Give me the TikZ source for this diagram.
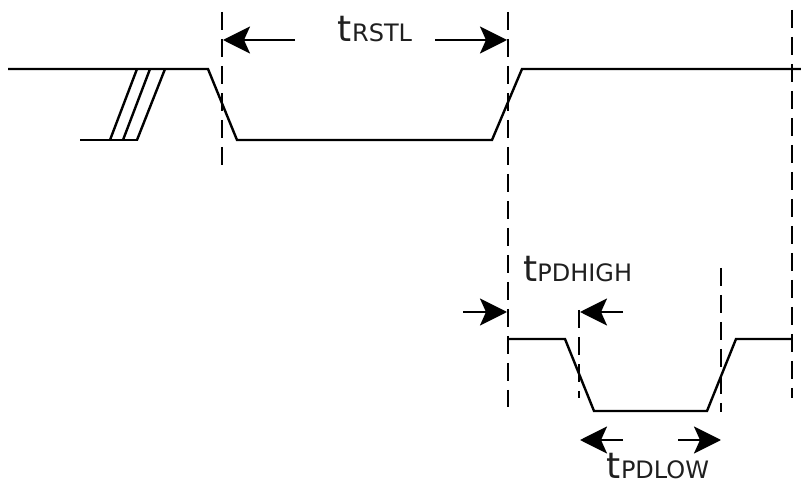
\documentclass[tikz,border=0pt]{standalone}
\usepackage{fontspec}
\setmainfont{DejaVu Sans}
\usetikzlibrary{arrows.meta}
\begin{document}
\begin{tikzpicture}[x=1pt,y=-1pt,
  wave/.style={line width=2.4pt,line join=miter},
  guide/.style={line width=2.4pt,dash pattern=on 18pt off 9pt},
  dimarrow/.style={line width=2.4pt,-{Stealth[length=27pt,width=27pt,inset=6pt]}},
  lbl/.style={inner sep=0pt,text=black!88,text depth=0pt}]
\useasboundingbox (0,0) rectangle (801,486);
% coordinates
\coordinate (g1t) at (222,12); \coordinate (g1b) at (222,168);
\coordinate (g2t) at (508,12); \coordinate (g2b) at (508,407);
\coordinate (g3t) at (792,10); \coordinate (g3b) at (792,398);
\coordinate (g4t) at (579,310); \coordinate (g4b) at (579,398);
\coordinate (g5t) at (721,268); \coordinate (g5b) at (721,412);
% guide lines
\draw[guide] (g1t) -- (g1b);
\draw[guide] (g2t) -- (g2b);
\draw[guide] (g3t) -- (g3b);
\draw[guide] (g4t) -- (g4b);
\draw[guide] (g5t) -- (g5b);
% top waveform
\draw[wave] (8,69) -- (208,69) -- (237,140) -- (492,140) -- (522,69) -- (801,69);
\draw[wave] (80,140) -- (138,140);
\draw[wave] (110,140) -- (137,69);
\draw[wave] (123,140) -- (150,69);
\draw[wave] (137,140) -- (165,69);
% bottom waveform
\draw[wave] (508,339) -- (565,339) -- (594,411) -- (707,411) -- (736,339) -- (792,339);
% arrows
\coordinate (a1s) at (295,40); \coordinate (a1e) at (223,40);
\coordinate (a2s) at (435,40); \coordinate (a2e) at (507,40);
\coordinate (a3s) at (463,312); \coordinate (a3e) at (507,312);
\coordinate (a4s) at (623,312); \coordinate (a4e) at (580,312);
\coordinate (a5s) at (623,440); \coordinate (a5e) at (580,440);
\coordinate (a6s) at (678,440); \coordinate (a6e) at (721,440);
\draw[dimarrow] (a1s) -- (a1e);
\draw[dimarrow] (a2s) -- (a2e);
\draw[dimarrow] (a3s) -- (a3e);
\draw[dimarrow] (a4s) -- (a4e);
\draw[dimarrow] (a5s) -- (a5e);
\draw[dimarrow] (a6s) -- (a6e);
% labels
\node[lbl,anchor=base] (trstl) at (375,42) {\fontsize{36}{36}\selectfont t\fontsize{24}{24}\selectfont RSTL};
\node[lbl,anchor=base west] (tpdh) at (523,282) {\fontsize{36}{36}\selectfont t\fontsize{24}{24}\selectfont PDHIGH};
\node[lbl,anchor=base] (tpdl) at (658,478) {\fontsize{36}{36}\selectfont t\fontsize{24}{24}\selectfont PDLOW};
\end{tikzpicture}
\end{document}
